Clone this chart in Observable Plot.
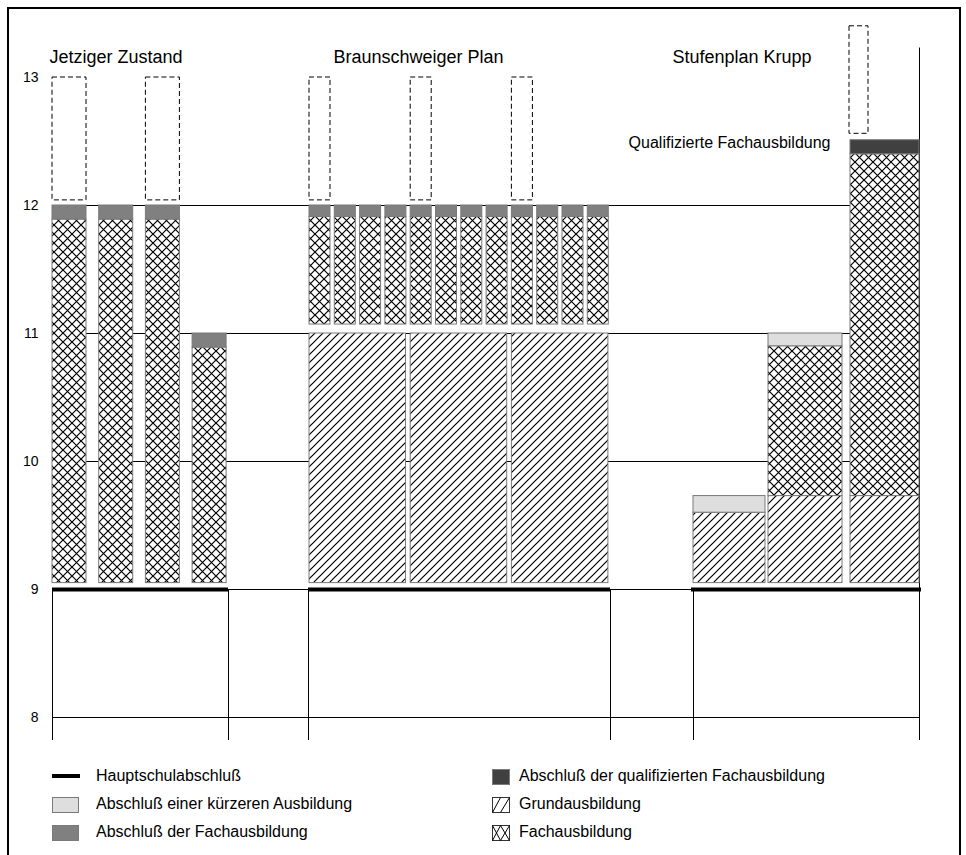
<!DOCTYPE html>
<html>
<head>
<meta charset="utf-8">
<script src="https://cdn.jsdelivr.net/npm/d3@7"></script>
<script src="https://cdn.jsdelivr.net/npm/@observablehq/plot@0.6"></script>
<style>
  body { margin: 0; background: #fff; font-family: "Liberation Sans", Arial, sans-serif; }
  #wrap { position: relative; width: 966px; height: 855px; overflow: hidden; }
  #frame { position: absolute; left: 7px; top: 7px; width: 954px; height: 900px; border: 2px solid #000; box-sizing: border-box; pointer-events: none; z-index: 5; }
  #chart { position: absolute; left: 0; top: 0; }
  .lg { position: absolute; font-size: 16px; line-height: 20px; color: #000; white-space: nowrap; }
  .sw { position: absolute; }
</style>
</head>
<body>
<svg width="0" height="0" style="position:absolute">
  <defs>
    <pattern id="pCross" patternUnits="userSpaceOnUse" width="9" height="9">
      <rect width="9" height="9" fill="#fff"/>
      <path d="M-1,-1L10,10M10,-1L-1,10" stroke="#000" stroke-width="1.2" fill="none"/>
    </pattern>
    <pattern id="pDiag" patternUnits="userSpaceOnUse" width="8" height="8">
      <rect width="8" height="8" fill="#fff"/>
      <path d="M0,8L8,0M-2,2L2,-2M6,10L10,6" stroke="#000" stroke-width="1.2" fill="none"/>
    </pattern>
  </defs>
</svg>
<div id="wrap">
  <div id="chart"></div>
  <div id="legend"></div>
  <div id="frame"></div>
</div>
<script>
// ---------------- data ----------------
const yTicks = [8, 9, 10, 11, 12, 13];
const gridLevels = [8, 10, 11, 12];
const groups = ["Jetziger Zustand", "Braunschweiger Plan", "Stufenplan Krupp"];
const hauptschulLevel = 9;
const barBottom = 9.05;

// Jetziger Zustand: 4 bars
const jFachTop = [11.89, 11.89, 11.89, 10.89];
const jAbschlussTop = [12, 12, 12, 11];
const jOpenBars = [0, 2];
const openRange = [12.04, 13];

// Braunschweiger Plan: 3 wide Grundausbildung bars, 12 narrow Fachausbildung bars
const bGrundTop = [11, 11, 11];
const bFachBottom = [11.07, 11.07, 11.07, 11.07, 11.07, 11.07, 11.07, 11.07, 11.07, 11.07, 11.07, 11.07];
const bFachTop = [11.91, 11.91, 11.91, 11.91, 11.91, 11.91, 11.91, 11.91, 11.91, 11.91, 11.91, 11.91];
const bAbschlussTop = [12, 12, 12, 12, 12, 12, 12, 12, 12, 12, 12, 12];
const bOpenBars = [0, 4, 8];

// Stufenplan Krupp: 3 bars
const kGrundTop = [9.6, 9.73, 9.73];
const kFachTop = [null, 10.9, 12.4];
const kKurzTop = [9.73, 11, null];
const kQualTop = [null, null, 12.51];
const kOpenRange = [12.56, 13.4];

const annotation = "Qualifizierte Fachausbildung";
const legendLeft = ["Hauptschulabschluß", "Abschluß einer kürzeren Ausbildung", "Abschluß der Fachausbildung"];
const legendRight = ["Abschluß der qualifizierten Fachausbildung", "Grundausbildung", "Fachausbildung"];

// ---------------- layout (x scale units, code only) ----------------
const XMAX = 867;
const cols = [[0, 176], [256, 558], [639, 869]];
const colEdges = [0, 176, 256, 558, 641, 867];
const titleX = [-3, 281, 620];
const jSlot = i => [i * 46.7, i * 46.7 + 34];
const bNarrow = i => [257 + i * 25.3, 257 + i * 25.3 + 21];
const bWide = i => [257 + i * 101.2, 257 + i * 101.2 + 96.5];
const kSlots = [[641, 713], [716, 790], [798, 867]];
const kOpenWidth = 19;

const COL = {abschluss: "#808080", qual: "#404040", kurz: "#dedede", edge: "#7a7a7a"};

// ---------------- build segments ----------------
const segs = {fach: [], grund: [], abschluss: [], qual: [], kurz: []};
const open = [];
jFachTop.forEach((t, i) => {
  const [a, b] = jSlot(i);
  segs.fach.push({x1: a, x2: b, y1: barBottom, y2: t});
  segs.abschluss.push({x1: a, x2: b, y1: t, y2: jAbschlussTop[i]});
});
jOpenBars.forEach(i => { const [a, b] = jSlot(i); open.push({x1: a, x2: b, y1: openRange[0], y2: openRange[1]}); });
bGrundTop.forEach((t, i) => { const [a, b] = bWide(i); segs.grund.push({x1: a, x2: b, y1: barBottom, y2: t}); });
bFachTop.forEach((t, i) => {
  const [a, b] = bNarrow(i);
  segs.fach.push({x1: a, x2: b, y1: bFachBottom[i], y2: t});
  segs.abschluss.push({x1: a, x2: b, y1: t, y2: bAbschlussTop[i]});
});
bOpenBars.forEach(i => { const [a, b] = bNarrow(i); open.push({x1: a, x2: b, y1: openRange[0], y2: openRange[1]}); });
kGrundTop.forEach((g, i) => {
  const [a, b] = kSlots[i];
  segs.grund.push({x1: a, x2: b, y1: barBottom, y2: g});
  let top = g;
  if (kFachTop[i] != null) { segs.fach.push({x1: a, x2: b, y1: top, y2: kFachTop[i]}); top = kFachTop[i]; }
  if (kKurzTop[i] != null) { segs.kurz.push({x1: a, x2: b, y1: top, y2: kKurzTop[i]}); top = kKurzTop[i]; }
  if (kQualTop[i] != null) { segs.qual.push({x1: a, x2: b, y1: top, y2: kQualTop[i]}); top = kQualTop[i]; }
});
open.push({x1: kSlots[2][0] - 1, x2: kSlots[2][0] - 1 + kOpenWidth, y1: kOpenRange[0], y2: kOpenRange[1]});

const hauptschul = cols.map(([a, b]) => ({x1: a, x2: b, y: hauptschulLevel}));
const titles = groups.map((g, i) => ({name: g, x: titleX[i], y: 13.16}));

const rectOpts = (fill) => ({x1: "x1", x2: "x2", y1: "y1", y2: "y2", fill, stroke: COL.edge, strokeWidth: 1});

const chart = Plot.plot({
  width: 966,
  height: 760,
  marginLeft: 52,
  marginRight: 47,
  marginTop: 77,
  marginBottom: 43,
  x: {domain: [0, XMAX], axis: null},
  y: {domain: [8, 13], axis: null},
  style: {fontFamily: "'Liberation Sans', Arial, sans-serif", background: "transparent", color: "#000"},
  marks: [
    Plot.axisY({ticks: yTicks, tickSize: 0, tickPadding: 14, fontSize: 14, label: null, tickFormat: d => String(d)}),
    Plot.ruleY(gridLevels, {y: d => d, x1: 0, x2: XMAX, stroke: "#000", strokeWidth: 1}),
    Plot.ruleY([hauptschulLevel], {y: d => d, x1: 0, x2: XMAX, stroke: "#000", strokeWidth: 1}),
    Plot.ruleX(colEdges, {x: d => d, y1: 7.82, y2: hauptschulLevel, stroke: "#000", strokeWidth: 1}),
    Plot.ruleX([XMAX], {x: d => d, y1: hauptschulLevel, y2: 13.23, stroke: "#000", strokeWidth: 1}),
    Plot.rect(segs.grund, rectOpts("url(#pDiag)")),
    Plot.rect(segs.fach, rectOpts("url(#pCross)")),
    Plot.rect(segs.abschluss, rectOpts(COL.abschluss)),
    Plot.rect(segs.kurz, rectOpts(COL.kurz)),
    Plot.rect(segs.qual, rectOpts(COL.qual)),
    Plot.ruleY(hauptschul, {x1: "x1", x2: "x2", y: "y", stroke: "#000", strokeWidth: 4}),
    Plot.rect(open, {x1: "x1", x2: "x2", y1: "y1", y2: "y2", fill: "none", stroke: "#000", strokeWidth: 1, strokeDasharray: "5,3"}),
    Plot.text(titles, {x: "x", y: "y", text: "name", textAnchor: "start", fontSize: 18, fill: "#000"}),
    Plot.text([annotation], {x: 778, y: 12.49, text: d => d, textAnchor: "end", fontSize: 16, fill: "#000"})
  ]
});
document.getElementById("chart").appendChild(chart);

// ---------------- legend ----------------
const lg = d3.select("#legend");
const rowY = [776, 804, 832];
function swatch(x, y, w, h, draw) {
  const s = lg.append("svg").attr("class", "sw").style("left", x + "px").style("top", (y - h / 2) + "px")
    .attr("width", w + 2).attr("height", h + 2);
  draw(s, w, h);
}
legendLeft.forEach((t, i) => {
  if (i === 0) {
    swatch(52, rowY[i], 28, 6, (s, w, h) => s.append("rect").attr("x", 0).attr("y", 1).attr("width", w).attr("height", 4).attr("fill", "#000"));
  } else {
    const f = i === 1 ? COL.kurz : COL.abschluss;
    swatch(52, rowY[i], 26, 15, (s, w, h) => s.append("rect").attr("x", 0.5).attr("y", 0.5).attr("width", w).attr("height", h).attr("fill", f).attr("stroke", COL.edge));
  }
  lg.append("div").attr("class", "lg").style("left", "96px").style("top", (rowY[i] - 10) + "px").text(t);
});
legendRight.forEach((t, i) => {
  swatch(492, rowY[i], 17, 15, (s, w, h) => {
    if (i === 0) {
      s.append("rect").attr("x", 0.5).attr("y", 0.5).attr("width", w).attr("height", h).attr("fill", COL.qual).attr("stroke", COL.edge);
    } else {
      s.append("rect").attr("x", 0.5).attr("y", 0.5).attr("width", w).attr("height", h).attr("fill", "#fff").attr("stroke", "#333");
      const p = i === 1
        ? `M0.5,${h + 0.5}L${w / 2},0.5M${w / 2},${h + 0.5}L${w + 0.5},0.5`
        : `M0.5,0.5L${w / 2},${h + 0.5}M${w / 2},0.5L${w + 0.5},${h + 0.5}M0.5,${h + 0.5}L${w / 2},0.5M${w / 2},${h + 0.5}L${w + 0.5},0.5`;
      s.append("path").attr("d", p).attr("stroke", "#000").attr("fill", "none");
    }
  });
  lg.append("div").attr("class", "lg").style("left", "519px").style("top", (rowY[i] - 10) + "px").text(t);
});
</script>
</body>
</html>
